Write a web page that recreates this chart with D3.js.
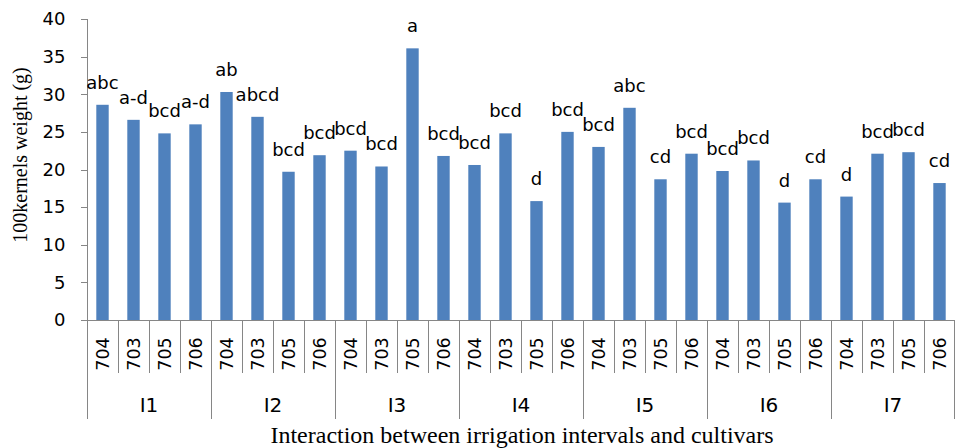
<!DOCTYPE html>
<html>
<head>
<meta charset="utf-8">
<script src="https://cdn.jsdelivr.net/npm/d3@7"></script>
<style>
  body { margin: 0; background: #fff; }
  svg { display: block; }
  .axis path, .axis line { stroke: #868686; shape-rendering: crispEdges; }
  .axis text { font-family: "DejaVu Sans", sans-serif; font-size: 18px; fill: #000; }
</style>
</head>
<body>
<div id="chart-area"></div>
<script>

var intervals = ["I1", "I2", "I3", "I4", "I5", "I6", "I7"];
var cultivars = ["704", "703", "705", "706"];

// 100 kernels weight (g), in order I1:704,703,705,706, I2:..., ...
var weights = [28.6, 26.6, 24.8, 26.0,
               30.3, 27.0, 19.7, 21.9,
               22.5, 20.4, 36.1, 21.8,
               20.6, 24.8, 15.8, 25.0,
               23.0, 28.2, 18.7, 22.1,
               19.8, 21.2, 15.6, 18.7,
               16.4, 22.1, 22.3, 18.2];

var letters = ["abc", "a-d", "bcd", "a-d",
               "ab", "abcd", "bcd", "bcd",
               "bcd", "bcd", "a", "bcd",
               "bcd", "bcd", "d", "bcd",
               "bcd", "abc", "cd", "bcd",
               "bcd", "bcd", "d", "cd",
               "d", "bcd", "bcd", "cd"];

var yTicks = [0, 5, 10, 15, 20, 25, 30, 35, 40];

var data = [];
intervals.forEach(function(iv, i){
    cultivars.forEach(function(cv, j){
        var k = i * cultivars.length + j;
        data.push({idx: k, interval: iv, cultivar: cv, value: weights[k], letter: letters[k]});
    });
});

var total_width = 955;
var total_height = 448;

var svg = d3.select('#chart-area').append('svg')
            .attr("width", total_width)
            .attr("height", total_height);

var plotLeft = 87, plotRight = 955, plotTop = 19, plotBase = 320;

var x = d3.scaleBand()
          .domain(data.map(function(d){ return d.idx; }))
          .range([plotLeft, plotRight])
          .paddingInner(0.6)
          .paddingOuter(0.3);

// category boundaries
var xb = d3.scaleLinear().domain([0, data.length]).range([plotLeft, plotRight]);

var y = d3.scaleLinear().domain([0, 40]).range([plotBase, plotTop]);

// y axis
var yAxis = d3.axisLeft(y).tickValues(yTicks).tickSize(7).tickPadding(15);
svg.append('g').attr("class", "axis")
   .attr("transform", "translate(" + (plotLeft + 0.5) + ",0)")
   .call(yAxis)
   .call(function(g){ g.select(".domain").remove(); });

svg.append("line")
   .attr("x1", plotLeft + 0.5).attr("x2", plotLeft + 0.5)
   .attr("y1", y(40)).attr("y2", 419)
   .attr("stroke", "#868686");

// x axis line
svg.append("line")
   .attr("x1", plotLeft).attr("x2", plotRight)
   .attr("y1", plotBase + 0.5).attr("y2", plotBase + 0.5)
   .attr("stroke", "#868686");

// category separators
var seps = d3.range(1, data.length + 1);
svg.selectAll(".sep").data(seps).enter().append("line")
   .attr("class", "sep")
   .attr("x1", function(k){ return Math.min(Math.round(xb(k)) + 0.5, plotRight - 0.5); })
   .attr("x2", function(k){ return Math.min(Math.round(xb(k)) + 0.5, plotRight - 0.5); })
   .attr("y1", plotBase)
   .attr("y2", function(k){ return (k % cultivars.length == 0) ? 419 : 373; })
   .attr("stroke", "#868686");

// bars
svg.selectAll(".bar").data(data).enter().append("rect")
   .attr("class", "bar")
   .attr("x", function(d){ return x(d.idx); })
   .attr("width", x.bandwidth())
   .attr("y", function(d){ return y(d.value); })
   .attr("height", function(d){ return plotBase - y(d.value); })
   .attr("fill", "#4F81BD");

// letters above bars
svg.selectAll(".lbl").data(data).enter().append("text")
   .attr("class", "lbl")
   .attr("x", function(d){ return x(d.idx) + x.bandwidth() / 2; })
   .attr("y", function(d){ return y(d.value) - 16; })
   .attr("text-anchor", "middle")
   .attr("font-family", "DejaVu Sans, sans-serif")
   .attr("font-size", "18px")
   .attr("fill", "#000")
   .text(function(d){ return d.letter; });

// cultivar labels (rotated)
svg.selectAll(".cv").data(data).enter().append("text")
   .attr("class", "cv")
   .attr("transform", function(d){
       return "translate(" + (x(d.idx) + x.bandwidth() / 2) + ",354) rotate(-90)";
   })
   .attr("dy", "0.36em")
   .attr("text-anchor", "middle")
   .attr("font-family", "DejaVu Sans, sans-serif")
   .attr("font-size", "17.5px")
   .attr("fill", "#000")
   .text(function(d){ return d.cultivar; });

// interval labels
svg.selectAll(".iv").data(intervals).enter().append("text")
   .attr("class", "iv")
   .attr("x", function(d, i){ return xb(i * cultivars.length + cultivars.length / 2); })
   .attr("y", 412)
   .attr("text-anchor", "middle")
   .attr("font-family", "DejaVu Sans, sans-serif")
   .attr("font-size", "20px")
   .attr("fill", "#000")
   .text(function(d){ return d; });

// axis titles
svg.append("text")
   .attr("transform", "translate(27," + 155 + ") rotate(-90)")
   .attr("text-anchor", "middle")
   .attr("font-family", "Liberation Serif, Times New Roman, serif")
   .attr("font-size", "20px")
   .attr("fill", "#000")
   .text("100kernels weight (g)");

svg.append("text")
   .attr("x", 522)
   .attr("y", 443)
   .attr("text-anchor", "middle")
   .attr("font-family", "Liberation Serif, Times New Roman, serif")
   .attr("font-size", "24px")
   .attr("fill", "#000")
   .text("Interaction between irrigation intervals and cultivars");

</script>
</body>
</html>
